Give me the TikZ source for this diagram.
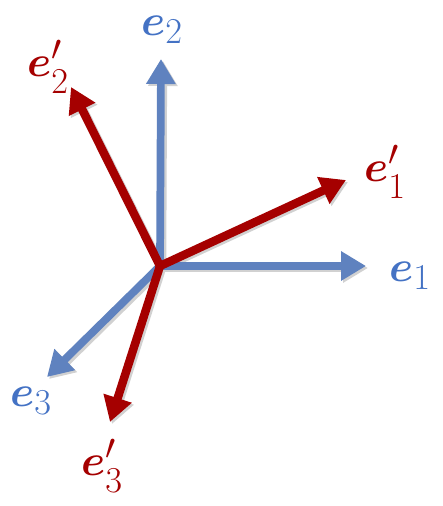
\documentclass[tikz,border=0pt]{standalone}
\usepackage{amsmath,amssymb,bm}
\usepackage{tikz}
\usetikzlibrary{arrows.meta}
\definecolor{axblue}{HTML}{5F82BF}
\definecolor{lblblue}{HTML}{4472C4}
\definecolor{axred}{HTML}{A50000}
\tikzset{
  old/.style={line width=4.4pt,axblue,-{Triangle[length=5mm,width=5.6mm]}},
  new/.style={line width=4.8pt,axred,-{Triangle[length=5mm,width=5.6mm]}},
  shade/.style={line width=4.8pt,black!18,-{Triangle[length=5mm,width=5.6mm]}},
  lbl/.style={font=\fontsize{32}{34}\selectfont,inner sep=0pt},
}

\begin{document}
\begin{tikzpicture}[x=0.02cm,y=-0.02cm]
    \useasboundingbox (0,0) rectangle (442,506);
    % ---------- common origin and arrow tips ----------
    \coordinate (o) at (160,266);
    \coordinate (t1) at (366,266);
    \coordinate (t2) at (161,59);
    \coordinate (t3) at (47,377);
    \coordinate (s1) at (346,180);
    \coordinate (s2) at (71,87);
    \coordinate (s3) at (110,422);
    % faint shadows below the arrows
    \foreach \t in {t1,t2,t3,s1,s2,s3}
      \draw[shade] ([shift={(2,2)}]o) -- ([shift={(2,2)}]\t);
    % ---------- old frame (blue) ----------
    \draw[old] (o) -- (t1);
    \draw[old] (o) -- (t2);
    \draw[old] (o) -- (t3);
    \node[lbl,lblblue] (l1) at (410,276) {$\bm{e}_1$};
    \node[lbl,lblblue] (l2) at (162,30) {$\bm{e}_2$};
    \node[lbl,lblblue] (l3) at (31,401) {$\bm{e}_3$};
    % ---------- new frame (red) ----------
    \draw[new] (o) -- (s1);
    \draw[new] (o) -- (s2);
    \draw[new] (o) -- (s3);
    \node[lbl,axred] (m1) at (385,172) {$\bm{e}'_1$};
    \node[lbl,axred] (m2) at (48,67) {$\bm{e}'_2$};
    \node[lbl,axred] (m3) at (102,466) {$\bm{e}'_3$};
\end{tikzpicture}
\end{document}
